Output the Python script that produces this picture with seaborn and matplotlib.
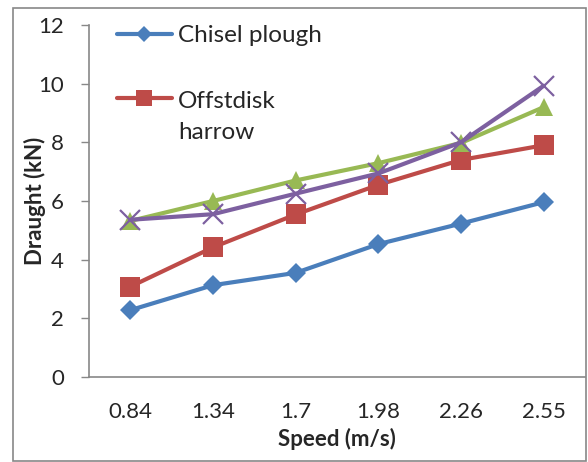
import matplotlib
matplotlib.use("Agg")
import matplotlib.pyplot as plt
import seaborn as sns
import pandas as pd
from matplotlib.patches import Rectangle

speed = ["0.84", "1.34", "1.7", "1.98", "2.26", "2.55"]
chisel = [2.28, 3.13, 3.55, 4.53, 5.23, 5.96]
offset_disk = [3.08, 4.42, 5.54, 6.55, 7.40, 7.90]
series3 = [5.32, 6.00, 6.70, 7.29, 7.98, 9.20]
series4 = [5.36, 5.55, 6.25, 6.94, 8.00, 9.93]

names = ["Chisel plough", "Offstdisk\nharrow", "Series3", "Series4"]
values = [chisel, offset_disk, series3, series4]
colors = ["#4A7EBB", "#BE4B48", "#98B954", "#7D60A0"]
markers = ["D", "s", "^", "x"]
msizes = [10, 14, 13, 14]

sns.set_style("white")
plt.rcParams["font.family"] = ["Lato", "DejaVu Sans"]

fig = plt.figure(figsize=(5.88, 4.62), dpi=100)
ax = fig.add_axes([89/588, 1 - 377/462, (585 - 89)/588, (377 - 25)/462])

for name, vals, c, m, ms in zip(names, values, colors, markers, msizes):
    df = pd.DataFrame({"speed": speed, "draught": vals})
    sns.lineplot(data=df, x="speed", y="draught", ax=ax, color=c, marker=m,
                 markersize=ms, linewidth=3.0, markeredgecolor=c,
                 markeredgewidth=1.6 if m == "x" else 0, label=name,
                 legend=False, sort=False)

ax.set_xlim(-0.5, 5.5)
ax.set_ylim(0, 12)
ax.set_yticks(range(0, 13, 2))
ax.set_xticks(range(len(speed)))
ax.set_xticklabels(speed)
ax.set_xticks([i - 0.5 for i in range(len(speed) + 1)], minor=True)
ax.tick_params(axis="x", which="major", length=0, pad=18, labelsize=16)
ax.tick_params(axis="x", which="minor", length=6, width=1, color="#888888", direction="out")
ax.tick_params(axis="y", which="major", length=6, width=1, color="#888888",
               direction="out", pad=12, labelsize=16)
ax.tick_params(left=True, bottom=True)
for s in ["top", "right"]:
    ax.spines[s].set_visible(False)
for s in ["left", "bottom"]:
    ax.spines[s].set_color("#888888")
    ax.spines[s].set_linewidth(1.2)

ax.set_xlabel("Speed (m/s)", fontsize=16, fontweight="bold")
ax.set_ylabel("Draught (kN)", fontsize=16, fontweight="bold")
ax.xaxis.set_label_coords(0.5, (377 - 428) / 352)
ax.yaxis.set_label_coords((46 - 89) / 496, 0.5)

handles = ax.get_lines()[:2]
leg = ax.legend(handles, names[:2], loc="upper left",
                bbox_to_anchor=((117 - 89) / 496, (377 - 25) / 352),
                frameon=False, fontsize=17.5, handlelength=2.25,
                handletextpad=0.25, labelspacing=1.87, borderaxespad=0,
                borderpad=0)
leg.get_texts()[1].set_linespacing(1.55)
leg_lines = leg.get_lines()
leg_lines[0].set_markersize(8)
leg_lines[1].set_markersize(11)
leg_lines[1].set_ydata(leg_lines[1].get_ydata() + 14)

fig.patches.append(Rectangle((13/588, 1.5/462), (586 - 13)/588, (454 - 1.5)/462,
                             transform=fig.transFigure, fill=False,
                             edgecolor="#888888", linewidth=1.2))

fig.savefig("out.png", dpi=100)
